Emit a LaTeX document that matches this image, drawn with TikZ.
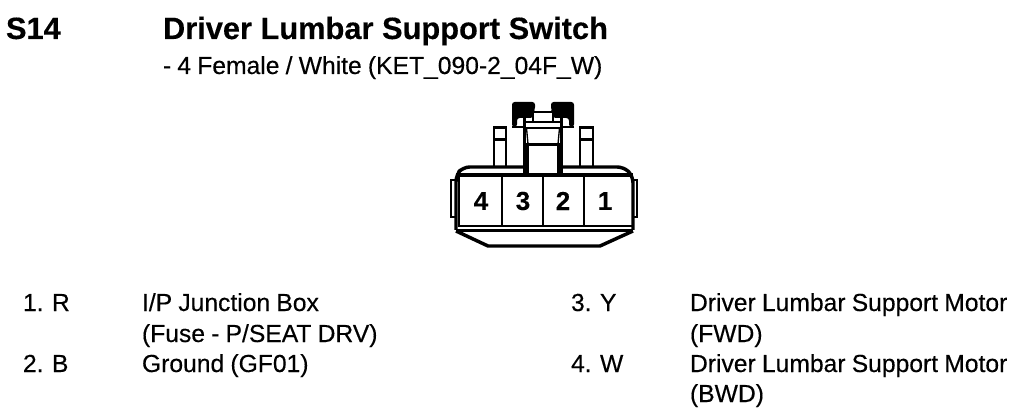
\documentclass[tikz,border=0pt]{standalone}
\usepackage{fontspec}
\setmainfont{Liberation Sans}
\newfontfamily\lblfont[FakeBold=0.35,WordSpace=0.9]{Liberation Sans}
\newfontfamily\ttlfont[FakeBold=0.3,WordSpace=0.8]{Liberation Sans Bold}
\newfontfamily\pinfont[FakeBold=0.3]{Liberation Sans Bold}
\tikzset{x=0.75pt,y=-0.75pt,
 lbl/.style={anchor=base west,inner sep=0pt,outer sep=0pt,font=\lblfont\fontsize{18.5}{22}\selectfont},
 ttl/.style={anchor=base west,inner sep=0pt,outer sep=0pt,font=\ttlfont\fontsize{23.1}{27}\selectfont},
 pin/.style={anchor=center,inner sep=0pt,font=\pinfont\fontsize{19.5}{22}\selectfont}}
\begin{document}
\begin{tikzpicture}
\useasboundingbox (0,0) rectangle (1034,420);
\node[ttl] (code) at (6,39) {S14};
\node[ttl] (title) at (163,39) {Driver Lumbar Support Switch};
\node[lbl] (sub) at (163,74) {- 4 Female / White (KET\_090-2\_04F\_W)};
% posts
\draw[line width=1.9pt] (494,167) -- (494,127.5) -- (506,127.5) -- (506,167) (494,139.5) -- (506,139.5);
\draw[line width=1.9pt] (580,167) -- (580,127.5) -- (593,127.5) -- (593,167) (580,139.5) -- (593,139.5);
% body
\draw[rounded corners=5pt,line width=2.6pt] (526,167) -- (463,167) -- (456,175) -- (456,230);
\draw[rounded corners=5pt,line width=2.6pt] (562,167) -- (624,167) -- (633,176) -- (633,230);
\draw[line width=2.6pt] (456,175) -- (633,175);
\draw[line width=1.7pt] (459,175) -- (459,226) (502,175) -- (502,226) (543,175) -- (543,226) (584,175) -- (584,226);
\draw[line width=1.8pt] (458,226) -- (632,226);
\draw[line width=2.6pt] (456,230.5) -- (633,230.5);
\draw[line width=2.6pt,line join=round] (456,231) -- (488,246) -- (600,246) -- (633,231);
% side tabs
\draw[line width=1.5pt] (456,180) -- (450.5,180) -- (450.5,217) -- (456,217);
\draw[line width=1.5pt] (634,180) -- (637,180) -- (637,217) -- (634,217);
% latch
\fill[rounded corners=2pt] (512,127) -- (512,102) -- (535,102) -- (535,110) -- (533,112) -- (533,118) -- (517,118) -- (517,127) -- cycle;
\fill[rounded corners=2pt] (574,127) -- (574,102) -- (551,102) -- (551,110) -- (553,112) -- (553,118) -- (569,118) -- (569,127) -- cycle;
\draw[line width=1.4pt] (512,127) -- (524,127);
\draw[line width=1.4pt] (574,127) -- (562,127);
\draw[line width=1.3pt] (533,112) -- (553,112);
\fill[white] (533,113) rectangle (553,120.5);
\draw[line width=1.7pt] (524,122) -- (562,122);
\draw[line width=1.2pt] (533,112) -- (533,122) (553,112) -- (553,122);
\draw[line width=2pt] (524.5,118) -- (524.5,145) (561.5,118) -- (561.5,145);
\draw[line width=1.3pt] (525,128) -- (561,128);
\draw[line width=1pt] (526.5,128) -- (528,144) (559.5,128) -- (558,144);
\draw[line width=1.6pt] (524,144.5) -- (562,144.5);
\draw[line width=4.5pt] (526,144) -- (526,176) (560,144) -- (560,176);
% pins
\node[pin] (p4) at (481,201) {4};
\node[pin] (p3) at (523,201) {3};
\node[pin] (p2) at (563,201) {2};
\node[pin] (p1) at (605,201) {1};
% table
\node[lbl] (a1) at (23,311) {1. R};
\node[lbl] (a2) at (142,311) {I/P Junction Box};
\node[lbl] (a3) at (142,342) {(Fuse - P/SEAT DRV)};
\node[lbl] (b1) at (23,372) {2. B};
\node[lbl] (b2) at (142,372) {Ground (GF01)};
\node[lbl] (c1) at (571,311) {3. Y};
\node[lbl] (c2) at (690,311) {Driver Lumbar Support Motor};
\node[lbl] (c3) at (690,342) {(FWD)};
\node[lbl] (d1) at (571,372) {4. W};
\node[lbl] (d2) at (690,372) {Driver Lumbar Support Motor};
\node[lbl] (d3) at (690,402) {(BWD)};
\end{tikzpicture}
\end{document}
